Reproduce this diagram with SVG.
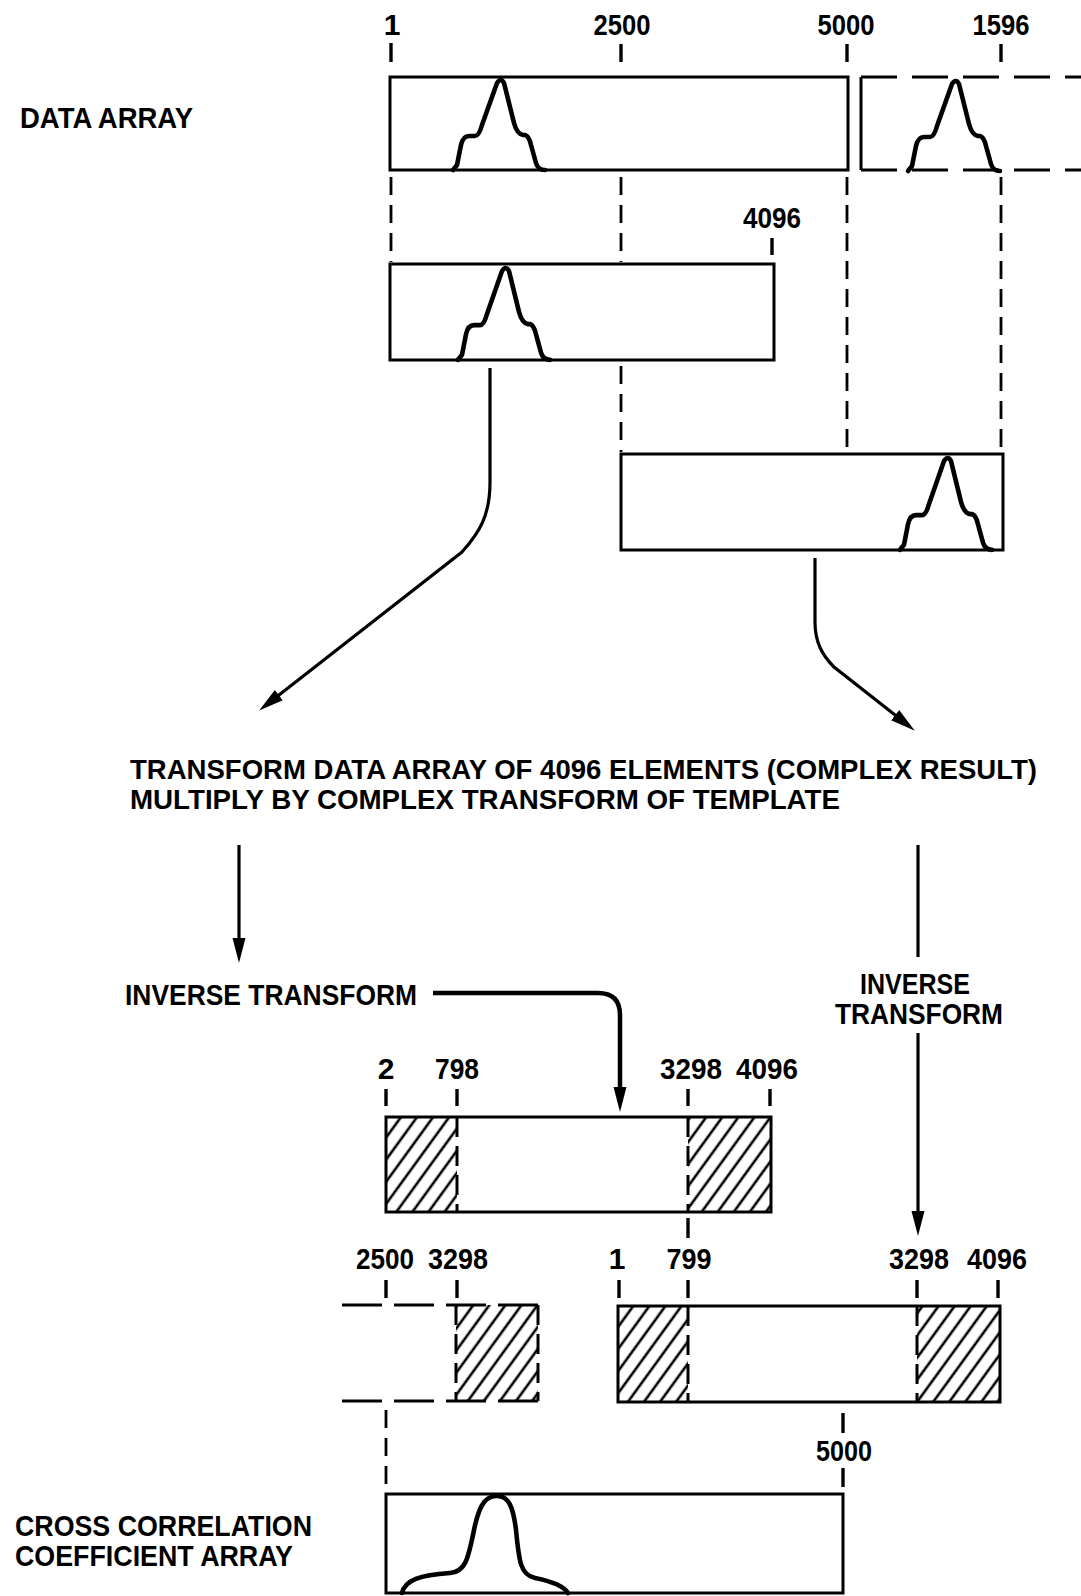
<svg xmlns="http://www.w3.org/2000/svg" width="1081" height="1596" viewBox="0 0 1081 1596">
<style>
.t{font-family:"Liberation Sans",Arial,sans-serif;font-size:30px;font-weight:bold;fill:#000}
.mt{font-size:28px}
.m{text-anchor:middle}
.box{fill:none;stroke:#000;stroke-width:3}
.ln{fill:none;stroke:#000;stroke-width:3}
.dash{fill:none;stroke:#000;stroke-width:2.8;stroke-dasharray:18 10}
.bd{fill:none;stroke:#000;stroke-width:3;stroke-dasharray:20 9}
.tick{stroke:#000;stroke-width:3.4}
.peak{fill:none;stroke:#000;stroke-width:4.6;stroke-linejoin:round;stroke-linecap:round}
.conn{fill:none;stroke:#000;stroke-width:3.2}
.hatch{fill:url(#hp);stroke:none}
</style>
<defs>
<pattern id="hp" patternUnits="userSpaceOnUse" width="13" height="20" patternTransform="rotate(36)">
<line x1="6" y1="-2" x2="6" y2="22" stroke="#000" stroke-width="2.6"/>
</pattern>
<marker id="ah" markerUnits="userSpaceOnUse" markerWidth="26" markerHeight="14" refX="12" refY="7" orient="auto">
<path d="M0,0.5 L25,7 L0,13.5 z" fill="#000"/>
</marker>
<path id="pk" d="M-48,91 L-44,86 L-40,66 Q-38,57 -32,57 L-26,57 Q-22,57 -19,46 L-4,4 Q0,-2 3,4 L13,44 Q16,55 22,56 L24,56 Q28,57 30,66 L35,84 Q37,91 44,91"/>
</defs>

<g id="top-labels">
<text class="t m" x="392" y="35">1</text>
<text class="t m" x="622" y="35" textLength="57" lengthAdjust="spacingAndGlyphs">2500</text>
<text class="t m" x="846" y="35" textLength="57" lengthAdjust="spacingAndGlyphs">5000</text>
<text class="t m" x="1001" y="35" textLength="57" lengthAdjust="spacingAndGlyphs">1596</text>
<line class="tick" x1="391" y1="43" x2="391" y2="62"/>
<line class="tick" x1="621" y1="44" x2="621" y2="62"/>
<line class="tick" x1="847" y1="44" x2="847" y2="62"/>
<line class="tick" x1="1001" y1="44" x2="1001" y2="62"/>
</g>

<g id="data-array-label">
<text class="t" x="20" y="128" textLength="173" lengthAdjust="spacingAndGlyphs">DATA ARRAY</text>
</g>

<g id="data-array">
<rect class="box" x="390" y="77" width="458" height="93"/>
<use href="#pk" class="peak" transform="translate(501,79)"/>
</g>

<g id="data-array-next">
<line class="ln" x1="861" y1="77" x2="861" y2="170"/>
<path d="M861,77 H1081 M861,170 H1081" fill="none" stroke="#000" stroke-width="3" stroke-dasharray="36 15"/>
<use href="#pk" class="peak" transform="translate(956,80)"/>
</g>

<g id="segment-1">
<text class="t m" x="772" y="228" textLength="58" lengthAdjust="spacingAndGlyphs">4096</text>
<line class="tick" x1="772" y1="238" x2="772" y2="255"/>
<rect class="box" x="390" y="264" width="384" height="96"/>
<use href="#pk" class="peak" transform="translate(506,267) scale(1,1.02)"/>
</g>

<g id="segment-2">
<rect class="box" x="621" y="454" width="382" height="96"/>
<use href="#pk" class="peak" transform="translate(948,457) scale(1,1.02)"/>
</g>

<g id="guides">
<line class="dash" x1="391" y1="177" x2="391" y2="262"/>
<line class="dash" x1="621" y1="177" x2="621" y2="262"/>
<line class="dash" x1="621" y1="366" x2="621" y2="452"/>
<line class="dash" x1="847" y1="177" x2="847" y2="452"/>
<line class="dash" x1="1001" y1="177" x2="1001" y2="452"/>
</g>

<g id="main-text">
<text class="t mt" x="130" y="779" textLength="907" lengthAdjust="spacingAndGlyphs">TRANSFORM DATA ARRAY OF 4096 ELEMENTS (COMPLEX RESULT)</text>
<text class="t mt" x="130" y="809" textLength="710" lengthAdjust="spacingAndGlyphs">MULTIPLY BY COMPLEX TRANSFORM OF TEMPLATE</text>
</g>

<g id="inv-left">
<text class="t" x="125" y="1005" textLength="292" lengthAdjust="spacingAndGlyphs">INVERSE TRANSFORM</text>
</g>
<g id="inv-right">
<text class="t m" x="915" y="994" textLength="110" lengthAdjust="spacingAndGlyphs">INVERSE</text>
<text class="t m" x="919" y="1024" textLength="168" lengthAdjust="spacingAndGlyphs">TRANSFORM</text>
</g>

<g id="connectors">
<path class="conn" d="M490,368 L490,482 C490,515 480,532 462,552 L269.4,702.6" marker-end="url(#ah)"/>
<path class="conn" d="M815,558 L815,622 C815,642 822,655 834,667 L904.6,722.6" marker-end="url(#ah)"/>
<path class="conn" d="M239,845 L239,950" marker-end="url(#ah)"/>
<path class="conn" d="M918,845 L918,957"/>
<path class="conn" d="M918,1033 L918,1223" marker-end="url(#ah)"/>
<path class="conn" style="stroke-width:4.5" d="M433,993 L598,993 Q620,993 620,1015 L620,1099" marker-end="url(#ah)"/>
</g>

<g id="result-1">
<text class="t m" x="386" y="1079">2</text>
<text class="t m" x="457" y="1079" textLength="44" lengthAdjust="spacingAndGlyphs">798</text>
<text class="t m" x="691" y="1079" textLength="62" lengthAdjust="spacingAndGlyphs">3298</text>
<text class="t m" x="767" y="1079" textLength="62" lengthAdjust="spacingAndGlyphs">4096</text>
<line class="tick" x1="386" y1="1089" x2="386" y2="1106"/>
<line class="tick" x1="457" y1="1089" x2="457" y2="1106"/>
<line class="tick" x1="688" y1="1089" x2="688" y2="1106"/>
<line class="tick" x1="770" y1="1089" x2="770" y2="1106"/>
<rect class="hatch" x="386" y="1117" width="71" height="95"/>
<rect class="hatch" x="688" y="1117" width="83" height="95"/>
<path class="ln" d="M386,1117 H771 V1212 H386 Z"/>
<line class="bd" x1="457" y1="1117" x2="457" y2="1212"/>
<line class="bd" x1="688" y1="1117" x2="688" y2="1212"/>
<line class="tick" x1="688" y1="1218" x2="688" y2="1238"/>
</g>

<g id="result-2-labels">
<text class="t m" x="385" y="1269" textLength="58" lengthAdjust="spacingAndGlyphs">2500</text>
<text class="t m" x="458" y="1269" textLength="60" lengthAdjust="spacingAndGlyphs">3298</text>
<text class="t m" x="617" y="1269">1</text>
<text class="t m" x="689" y="1269" textLength="45" lengthAdjust="spacingAndGlyphs">799</text>
<text class="t m" x="919" y="1269" textLength="60" lengthAdjust="spacingAndGlyphs">3298</text>
<text class="t m" x="997" y="1269" textLength="60" lengthAdjust="spacingAndGlyphs">4096</text>
<line class="tick" x1="386" y1="1280" x2="386" y2="1298"/>
<line class="tick" x1="457" y1="1280" x2="457" y2="1298"/>
<line class="tick" x1="619" y1="1280" x2="619" y2="1298"/>
<line class="tick" x1="688" y1="1280" x2="688" y2="1298"/>
<line class="tick" x1="917" y1="1280" x2="917" y2="1298"/>
<line class="tick" x1="998" y1="1280" x2="998" y2="1298"/>
</g>

<g id="result-2-prev">
<rect class="hatch" x="456" y="1305" width="82" height="96"/>
<path d="M342,1305 H538 M342,1401 H538" fill="none" stroke="#000" stroke-width="3" stroke-dasharray="40 12"/>
<line class="bd" x1="456" y1="1305" x2="456" y2="1401"/>
<line class="bd" x1="538" y1="1305" x2="538" y2="1401"/>
</g>

<g id="result-2">
<rect class="hatch" x="618" y="1306" width="70" height="96"/>
<rect class="hatch" x="917" y="1306" width="83" height="96"/>
<path class="ln" d="M618,1306 H1000 V1402 H618 Z"/>
<line class="bd" x1="688" y1="1306" x2="688" y2="1402"/>
<line class="bd" x1="917" y1="1306" x2="917" y2="1402"/>
</g>

<g id="cc-guides">
<line class="dash" x1="386" y1="1410" x2="386" y2="1490"/>
<line class="tick" x1="843" y1="1413" x2="843" y2="1433"/>
<text class="t m" x="844" y="1461" textLength="56" lengthAdjust="spacingAndGlyphs">5000</text>
<line class="tick" x1="843" y1="1468" x2="843" y2="1487"/>
</g>

<g id="cc-label">
<text class="t" x="15" y="1536" textLength="297" lengthAdjust="spacingAndGlyphs">CROSS CORRELATION</text>
<text class="t" x="15" y="1566" textLength="278" lengthAdjust="spacingAndGlyphs">COEFFICIENT ARRAY</text>
</g>

<g id="cc-array">
<rect class="box" x="386" y="1494" width="457" height="99"/>
<path class="peak" d="M402,1593 C405,1580 420,1575 450,1573 C465,1572 468,1560 474,1530 C480,1500 488,1496 497,1496 C508,1496 513,1505 516,1530 C519,1560 520,1575 535,1578 C555,1582 565,1588 568,1593"/>
</g>
</svg>
